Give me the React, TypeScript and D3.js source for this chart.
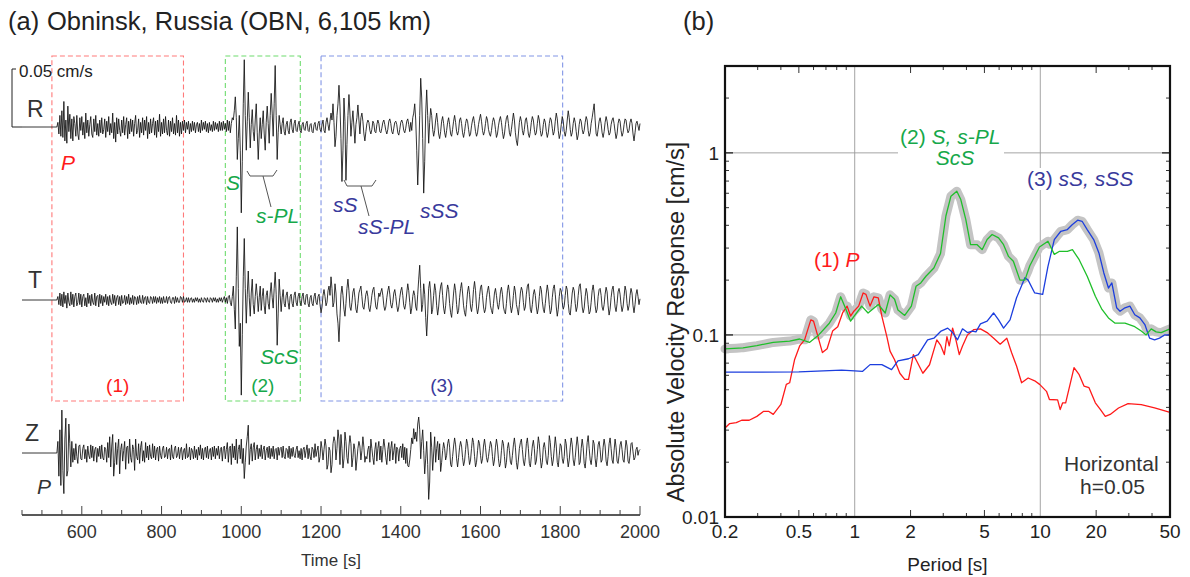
import React from "react";
import * as d3 from "d3";

const sans = "'Liberation Sans', Arial, Helvetica, sans-serif";

// ---- panel (a): seismograms, one sample every 2.5 s from 450 s, in 0.001 cm/s
const traceStart = 450;
const traceStep = 2.5;
const timeTicks = [600, 800, 1000, 1200, 1400, 1600, 1800, 2000];

const radial = [
  0, 0, 0, 0, 0, 0, 0, 0, 0, 0,
  0, 0, 0, 0, 0, 0, 0, 0, 0, 0,
  0, 0, 0, 0, 0, 0, 0, 0, 0, 0,
  0, 0, 0, 0, 0, 0, 4, -6, 10, -8,
  14, -9, 22, -12, 6, -14, 18, -4, 11, -10,
  7, -12, 9, 3, -8, 10, -6, -11, 8, -3,
  9, -7, 4, -10, 12, -5, 6, -8, 2, 9,
  -6, -9, 7, -4, 10, -7, 3, -8, 6, -5,
  8, -6, -2, 7, -9, 5, -4, 9, -7, 3,
  -5, 12, -10, 4, -13, 8, -6, 7, -3, -8,
  6, -5, 9, -7, 2, 8, -10, 5, -6, 7,
  -4, 6, -8, 3, 10, -6, -3, 7, -9, 4,
  -5, 8, -7, 6, -3, 9, -10, 4, -6, 7,
  -5, 3, 8, -7, 5, -9, 6, -4, 11, -8,
  4, -6, 7, -5, 9, -3, -7, 6, -8, 5,
  -4, 8, -6, 3, -7, 10, -5, 6, -8, 4,
  -6, 5, -3, 6, -5, 4, -2, 5, -6, 3,
  -4, 5, -3, 4, -5, 2, 4, -4, 3, -5,
  6, -3, 4, -2, 5, -4, 3, -5, 4, -3,
  2, -4, 5, -3, 4, -2, 3, -4, 5, -3,
  4, -3, 5, -2, 3, -4, 6, -3, 5, -5,
  3, 8, 6, 14, 26, 8, -28, -10, 10, -20,
  -74, -30, 20, 58, 10, -20, 5, 30, 8, -18,
  2, 15, -4, -12, 6, 20, -5, -28, -6, 8,
  -10, 2, 14, -6, -20, 4, 18, 3, -14, 10,
  29, 12, -8, 20, 53, 10, -28, -5, 10, 2,
  -6, 3, 8, -4, -7, 2, 5, -3, -6, 4,
  7, -2, -5, 3, 6, -3, -4, 2, 5, -3,
  -5, 2, 4, -2, -3, 3, 5, -3, -4, 2,
  3, -4, -5, 2, 4, -2, -3, 3, 5, -2,
  -4, 2, 6, -3, -5, 4, 8, 2, -3, 5,
  12, 6, 20, 4, -17, -8, 10, 20, 36, 18,
  -10, -47, -20, 25, 5, -46, -15, 10, 28, 12,
  -8, 4, 14, 0, -14, 2, 8, 19, 6, -6,
  8, 12, 5, -6, -12, -4, 3, 6, 4, -3,
  -6, -2, 5, 3, -4, -5, 2, 6, 3, -4,
  -5, -1, 4, 6, 2, -3, -6, -2, 5, 7,
  3, -4, -6, -1, 4, 5, 2, -5, -7, -2,
  4, 6, 3, -3, -5, -1, 5, 7, 2, -4,
  4, -3, 8, 12, 20, 6, -20, -50, -25, 10,
  42, 25, -10, -57, -30, 12, 32, 10, -14, 4,
  16, 10, -2, -8, -3, 6, 12, 4, -6, -10,
  -4, 5, 9, 3, -5, -9, -3, 4, 8, 2,
  -6, -8, -2, 5, 10, 4, -4, -7, -3, 6,
  8, 3, -5, -9, -4, 3, 7, 5, -2, -8,
  -6, 1, 6, 9, 3, -4, -8, -5, 2, 7,
  11, 5, -3, -7, -4, 3, 9, 6, -2, -6,
  -8, -3, 4, 8, 5, -2, -9, -6, 1, 6,
  9, 4, -4, -10, -6, 2, 8, 10, 3, -5,
  -8, -2, 5, 12, 6, -5, -12, -16, -6, 4,
  9, 5, -3, -7, -2, 6, 8, 2, -6, -9,
  -4, 4, 9, 6, -2, -7, -5, 3, 10, 6,
  -3, -8, -6, 2, 7, 4, -4, -9, -5, 3,
  8, 6, -1, -7, -4, 5, 12, 7, -3, -10,
  -6, 2, 9, 5, -4, -8, -3, 6, 14, 8,
  -2, -8, -5, 3, 8, 4, -4, -11, -7, 2,
  7, 5, -2, -6, -3, 4, 9, 6, -3, -8,
  -5, 3, 8, 14, 20, 6, -6, -8, -2, 5,
  8, 3, -5, -9, -4, 4, 9, 5, -2, -7,
  -5, 2, 6, 8, 3, -4, -10, -6, 3, 7,
  5, -3, -8, -5, 2, 7, 6, -1, -5, -3,
  4, 7, 3, -6, -12, -5, 3, 5, 1, -3,
  3,
];

const transverse = [
  0, 0, 0, 0, 0, 0, 0, 0, 0, 0,
  0, 0, 0, 0, 0, 0, 0, 0, 0, 0,
  0, 0, 0, 0, 0, 0, 0, 0, 0, 0,
  0, 0, 0, 0, 0, 0, 3, -4, 6, -5,
  5, -6, 7, -3, 4, -7, 6, -2, -5, 7,
  -4, 5, -6, 3, 6, -5, -2, 6, -4, 5,
  -6, 3, 5, -5, 2, -6, 6, -3, 4, -5,
  5, -2, -4, 6, -5, 3, 4, -6, 5, -3,
  4, -5, 3, -2, 5, -4, 3, -5, 4, -2,
  -4, 5, -3, 4, -5, 2, 4, -4, 3, -5,
  4, -3, -2, 4, -4, 3, -3, 5, -4, 2,
  -3, 4, -4, 3, 2, -4, 3, -3, 4, -2,
  -3, 4, -3, 2, 3, -4, 3, -2, -3, 3,
  2, -3, 3, -2, 3, -3, 2, -2, 3, -3,
  2, -3, 3, -2, -2, 3, -3, 2, 3, -2,
  -3, 2, 2, -3, 3, -2, 2, -2, -2, 3,
  2, -2, 3, -2, -1, 2, -2, 2, -2, 1,
  2, -2, 1, -2, 2, -1, 2, -2, 1, -2,
  2, -1, -2, 2, 1, -2, 2, -1, -2, 2,
  1, -2, 2, -1, 2, -2, 1, -2, 2, -1,
  2, -2, 1, 3, -2, 2, -3, 3, 4, -2,
  -5, 3, 12, -8, -25, 20, 63, 10, -40, -20,
  -82, -30, 20, 53, 10, -20, 5, 25, 2, -14,
  6, 18, -4, -12, 3, 14, 4, -10, 2, 12,
  -9, 3, 10, -5, -12, 4, 8, -3, -8, 6,
  15, 2, -7, 10, 24, 5, -39, -12, 18, 4,
  -10, 2, 9, -3, -6, 4, 7, -2, -8, 3,
  5, -3, -6, 4, 7, -2, -5, 3, 6, -2,
  -5, 3, 6, -2, -4, 4, 5, -3, -6, 2,
  4, -3, -5, 3, 6, -2, -4, 3, 5, -4,
  -11, -6, 4, 9, 3, -5, -2, 8, 12, 4,
  20, 10, -6, -2, 14, 6, -12, -20, -36, -15,
  5, 12, 4, -8, -14, -3, 10, 18, 8, -6,
  -9, -2, 7, 10, 2, -8, -11, -3, 6, 9,
  12, 3, -6, -8, -2, 5, 8, 3, -7, -10,
  -4, 4, 9, 11, 2, -6, -8, -1, 6, 3,
  7, 10, 4, -5, -9, -6, 2, 8, 12, 5,
  -4, -7, -2, 6, 9, 3, -5, -10, -6, 2,
  8, 11, 4, -5, -8, -3, 6, 14, 8, -2,
  -12, -7, 3, 8, 4, -6, -9, 5, 18, 30,
  10, -10, -4, 14, 5, -15, -31, -12, 10, 16,
  6, -12, -8, 4, 14, 8, -5, -13, -6, 5,
  12, 15, 4, -7, -12, -5, 6, 13, 9, -3,
  -11, -15, -5, 6, 14, 8, -4, -12, -9, 2,
  10, 15, 6, -5, -11, -14, -4, 7, 12, 5,
  -6, -10, -3, 9, 16, 8, -6, -12, -7, 3,
  11, 13, 4, -6, -11, -8, 2, 8, 12, 5,
  -5, -9, -12, -3, 6, 10, 4, -4, -8, -2,
  7, 11, 5, -6, -10, -12, -3, 8, 13, 6,
  -5, -11, -6, 4, 12, 7, -4, -8, -13, -4,
  6, 11, 8, -2, -9, -6, 5, 12, 14, 3,
  -8, -11, -4, 5, 9, 4, -6, -12, -7, 3,
  12, 9, -1, -8, -11, -3, 6, 13, 7, -4,
  -12, -9, 2, 10, 13, 5, -6, -14, -8, 3,
  10, 8, -2, -8, -5, 4, 12, 9, -3, -11,
  -13, -4, 6, 11, 8, -3, -10, -6, 4, 12,
  14, 5, -6, -11, -7, 3, 10, 6, -4, -12,
  -10, -2, 8, 13, 6, -5, -11, -8, 3, 9,
  10, 4, -6, -9, -4, 5, 11, 7, -5, -13,
  -8, 2, 9, 12, 4, -6, -10, -3, 7, 10,
  5, -4, -10, -6, 3, 12, 8, -3, -9, -5,
  4, 10, 6, -5, -11, -4, 5, 9, 3, -4,
  1,
];

const vertical = [
  0, 0, 0, 0, 0, 0, 0, 0, 0, 0,
  0, 0, 0, 0, 0, 0, 0, 0, 0, 0,
  0, 0, 0, 0, 0, 0, 0, 0, 0, 0,
  0, 0, 0, 0, 0, 0, 10, -20, 20, -28,
  37, -15, -35, 12, 30, -20, -15, 25, 8, -12,
  10, -8, 4, -6, 8, -3, -9, 6, 7, -5,
  -6, 4, 7, -5, 3, -8, 6, -2, -5, 7,
  -4, 6, -7, 3, 5, -8, 4, -3, 6, -5,
  7, -4, -6, 5, 3, -8, 9, -4, 14, -12,
  6, 16, -20, -8, 9, -10, 4, 12, -18, 3,
  8, -7, 2, 10, -14, 5, 6, -9, 12, -4,
  -8, 7, 3, -15, 12, -3, -6, 8, -9, 5,
  10, -7, 2, -8, 9, -4, 6, -6, 7, -3,
  -5, 8, -4, 6, -6, 3, 5, -7, 6, -2,
  -5, 4, 6, -4, -3, 5, -5, 3, 4, -6,
  7, -3, -5, 4, 6, -4, -2, 5, -5, 3,
  5, -6, 2, 4, -5, 8, -4, -3, 5, -6,
  4, 2, -5, 6, -4, 3, -6, 5, -2, 7,
  -5, 4, -6, 3, 5, -4, 6, -5, 2, 4,
  -6, 5, -3, 6, -5, 4, -2, 6, -5, 3,
  5, -7, 4, 6, -5, 3, 9, -8, 4, 6,
  -10, 8, -4, 6, -6, 12, -9, 3, 7, -5,
  12, -9, 4, -22, -8, 6, 14, 24, -10, 3,
  8, -7, 5, 9, -6, 3, 7, -5, 4, -3,
  7, -5, 3, 6, -6, 2, 5, -4, 6, -5,
  4, -3, 6, -5, 3, 4, -6, 5, -2, 4,
  5, -4, 6, -3, -5, 4, 3, -4, 6, -5,
  4, -3, 5, -2, -4, 3, 6, -4, 2, -5,
  4, -6, 3, 5, -4, 2, 7, -5, 4, -3,
  -6, 5, 3, -4, 8, -3, 2, 6, -8, -3,
  10, 4, -6, 3, 12, 6, -14, -10, 5, 2,
  -17, -10, 8, 14, 10, -6, 4, 20, 12, -10,
  16, 4, -13, -5, 18, 10, -4, -9, 6, 15,
  8, -12, -4, 8, 3, -15, -6, 4, 10, 6,
  -6, 2, 14, 5, -8, -3, -5, 3, 6, -8,
  12, 4, -4, -10, 3, 9, -7, 4, 10, -6,
  6, -8, 3, 12, 5, -4, -10, 3, 9, -7,
  4, 10, -6, 2, 8, -9, 5, 3, -7, 4,
  6, -4, 8, -6, 5, -9, 4, -11, -12, -6,
  3, 13, 8, 21, 12, 18, 10, 25, 31, 20,
  -5, 10, 20, 2, -18, -5, 10, -10, -40, -25,
  18, 5, -15, 0, 14, -8, 4, 10, -6, 8,
  -16, -8, 2, 9, 4, -6, -2, 8, 12, 5,
  -10, -12, -3, 6, 13, 7, -5, -12, -4, 5,
  10, 6, -4, -11, -7, 3, 12, 8, -2, -10,
  -6, 4, 13, 9, -3, -12, -8, 2, 11, 8,
  -2, -9, -5, 6, 12, 5, -4, -8, -3, 4,
  10, 7, -3, -11, -6, 5, 12, 6, -5, -12,
  -9, 2, 11, 8, -3, -13, -8, 4, 9, 2,
  -8, -10, -2, 7, 13, 5, -8, -14, -6, 4,
  9, 12, 3, -7, -11, -4, 8, 13, 4, -9,
  -12, -3, 6, 11, 4, -10, -7, 3, 14, 8,
  -4, -13, -8, 5, 9, 3, -7, -10, -2, 15,
  9, -3, -11, -6, 4, 14, 6, -8, -12, -2,
  8, 6, -5, -9, -3, 12, 8, -4, -12, -6,
  5, 13, 7, -6, -11, -4, 6, 14, 6, -10,
  -8, 4, 12, 5, -9, -13, -3, 9, 15, 4,
  -6, -10, -2, 11, 8, -5, -12, -4, 7, 10,
  3, -8, -6, 5, 12, 6, -7, -11, -3, 8,
  13, 4, -6, -9, 2, 12, 5, -7, -9, -2,
  7, 10, 3, -6, -8, 2, 11, 6, -7, -9,
  -2, 8, 9, 1, -6, -4, 3, 5, -2, 2,
  3,
];

// analysis windows [s]
const windowLabels = ["(1)", "(2)", "(3)"];
const windowStarts = [525, 960, 1200];
const windowEnds = [855, 1148, 1806];

// ---- panel (b): absolute velocity response spectra [period s, cm/s]
const spectrumP: [number, number][] = [
  [0.2, 0.0308], [0.212, 0.0326], [0.23, 0.033], [0.246, 0.034], [0.27, 0.034], [0.297, 0.0357],
  [0.322, 0.038], [0.345, 0.038], [0.364, 0.0366], [0.4, 0.0415], [0.428, 0.0535], [0.446, 0.0546],
  [0.474, 0.073], [0.505, 0.087], [0.537, 0.094], [0.58, 0.121], [0.6, 0.119], [0.63, 0.1],
  [0.67, 0.08], [0.71, 0.084], [0.76, 0.105], [0.81, 0.111], [0.86, 0.132], [0.91, 0.144],
  [0.95, 0.127], [0.99, 0.135], [1.05, 0.144], [1.11, 0.17], [1.15, 0.167], [1.21, 0.144],
  [1.27, 0.162], [1.34, 0.16], [1.4, 0.127], [1.49, 0.098], [1.55, 0.0815], [1.64, 0.073],
  [1.75, 0.0616], [1.86, 0.057], [1.95, 0.057], [2.07, 0.078], [2.14, 0.073], [2.33, 0.0616],
  [2.53, 0.0686], [2.77, 0.094], [2.9, 0.088], [3.04, 0.078], [3.14, 0.098], [3.23, 0.087],
  [3.37, 0.109], [3.51, 0.094], [3.66, 0.078], [3.81, 0.087], [4.05, 0.1], [4.39, 0.107],
  [4.76, 0.108], [5.17, 0.103], [5.61, 0.096], [6.08, 0.089], [6.6, 0.096], [7.0, 0.08],
  [7.45, 0.0675], [7.93, 0.0546], [8.6, 0.058], [9.33, 0.056], [9.92, 0.0535], [10.8, 0.049],
  [11.2, 0.0442], [12.4, 0.044], [12.8, 0.0389], [13.2, 0.0424], [13.7, 0.0424], [15.2, 0.0661],
  [16.2, 0.0605], [17.2, 0.0524], [18.3, 0.0513], [19.8, 0.0424], [21.1, 0.0389], [22.4, 0.0357],
  [23.8, 0.0366], [26.4, 0.0397], [29.7, 0.0419], [35, 0.0414], [41.3, 0.0397], [50, 0.0375],
];

const spectrumS: [number, number][] = [
  [0.2, 0.0838], [0.25, 0.085], [0.297, 0.0874], [0.364, 0.091], [0.446, 0.0925], [0.505, 0.095],
  [0.57, 0.091], [0.64, 0.1], [0.73, 0.116], [0.79, 0.132], [0.84, 0.162], [0.89, 0.141],
  [0.95, 0.119], [1.0, 0.128], [1.09, 0.144], [1.18, 0.132], [1.34, 0.147], [1.46, 0.132],
  [1.55, 0.166], [1.64, 0.157], [1.71, 0.137], [1.86, 0.128], [2.02, 0.144], [2.14, 0.185],
  [2.27, 0.193], [2.42, 0.21], [2.67, 0.233], [2.9, 0.28], [3.1, 0.45], [3.3, 0.578],
  [3.55, 0.616], [3.73, 0.554], [3.97, 0.43], [4.21, 0.313], [4.57, 0.313], [4.86, 0.294],
  [5.17, 0.334], [5.5, 0.356], [5.96, 0.341], [6.34, 0.313], [6.74, 0.27], [7.16, 0.254],
  [7.77, 0.2], [8.26, 0.2], [8.78, 0.24], [9.9, 0.304], [11.0, 0.327], [11.9, 0.277],
  [12.7, 0.288], [14.0, 0.288], [14.9, 0.294], [16.2, 0.259], [17.9, 0.21], [19.8, 0.163],
  [21.5, 0.138], [23.3, 0.124], [25.3, 0.116], [28.6, 0.116], [32.3, 0.111], [35, 0.105],
  [37.2, 0.1], [39.6, 0.108], [42.1, 0.104], [44.8, 0.103], [50, 0.108],
];

const spectrumSS: [number, number][] = [
  [0.2, 0.0624], [0.5, 0.0626], [0.85, 0.064], [1.0, 0.0635], [1.1, 0.063], [1.21, 0.0687],
  [1.4, 0.0687], [1.58, 0.0645], [1.71, 0.072], [1.95, 0.074], [2.2, 0.078], [2.47, 0.094],
  [2.67, 0.096], [2.92, 0.105], [3.17, 0.109], [3.37, 0.103], [3.58, 0.094], [3.81, 0.108],
  [4.05, 0.103], [4.3, 0.105], [4.5, 0.104], [4.76, 0.115], [5.17, 0.119], [5.6, 0.132],
  [5.96, 0.121], [6.34, 0.109], [6.87, 0.121], [7.45, 0.16], [8.26, 0.206], [8.6, 0.2],
  [9.33, 0.17], [10.3, 0.167], [11.0, 0.238], [11.9, 0.334], [12.9, 0.371], [14.0, 0.379],
  [14.9, 0.404], [15.9, 0.427], [16.8, 0.421], [17.9, 0.379], [19.4, 0.334], [20.7, 0.282],
  [22.0, 0.219], [23.3, 0.181], [24.3, 0.193], [25.8, 0.141], [26.9, 0.135], [28.6, 0.141],
  [30.4, 0.144], [32.3, 0.129], [34.4, 0.124], [36.6, 0.114], [38.8, 0.096], [41.3, 0.094],
  [43.9, 0.096], [46.7, 0.1], [50, 0.1],
];

const periodTicks = [0.2, 0.5, 1, 2, 5, 10, 20, 50];
const velocityTicks = [0.01, 0.1, 1];

// colours
const red = "#ff1a1a";
const green = "#1fbf2a";
const blue = "#1c3ede";
const greenText = "#16a84a";
const navyText = "#393a9c";
const boxColors = ["#ff7a7a", "#6fdc6f", "#8296e6"];
const windowTextColors = [red, greenText, navyText];

// log-log interpolation, used for the grey envelope of the three spectra
function interpLog(data: [number, number][], t: number) {
  if (t <= data[0][0]) return data[0][1];
  for (let i = 1; i < data.length; i++) {
    if (t <= data[i][0]) {
      const [t0, v0] = data[i - 1];
      const [t1, v1] = data[i];
      const f = Math.log(t / t0) / Math.log(t1 / t0);
      return Math.exp(Math.log(v0) + f * (Math.log(v1) - Math.log(v0)));
    }
  }
  return data[data.length - 1][1];
}

const SeismogramPanel = () => {
  const xT = d3.scaleLinear().domain([450, 2000]).range([22, 640]);
  // 0.05 cm/s = 50 units -> 58 px
  const amp = d3.scaleLinear().domain([0, 50]).range([0, -58]);
  const bases = { R: 127, T: 300, Z: 453 };
  const axisY = 515;

  const tracePath = (values: number[], base: number) =>
    d3.line<number>()
      .x((_, i) => xT(traceStart + i * traceStep))
      .y((v) => base + amp(v))(values) || "";

  const minor = d3.range(450, 2001, 50);
  const italic = { fontStyle: "italic" as const };

  return (
    <g fontFamily={sans}>
      <text x={8} y={30} fontSize={25.5} fill="#222">(a)</text>
      <text x={47} y={30} fontSize={25.5} fill="#222">Obninsk, Russia (OBN, 6,105 km)</text>

      {windowStarts.map((s, i) => (
        <g key={i}>
          <rect
            x={xT(s)} y={56}
            width={xT(windowEnds[i]) - xT(s)} height={345}
            fill="none" stroke={boxColors[i]} strokeWidth={1.1} strokeDasharray="5,3"
          />
          <text
            x={(xT(s) + xT(windowEnds[i])) / 2} y={392}
            textAnchor="middle" fontSize={19} fill={windowTextColors[i]}
          >{windowLabels[i]}</text>
        </g>
      ))}

      {/* scale bar */}
      <path
        d={`M16,${bases.R + amp(50)} H12 V${bases.R} H22`}
        fill="none" stroke="#222" strokeWidth={1}
      />
      <text x={19} y={77} fontSize={17} fill="#222">0.05 cm/s</text>

      <text x={27} y={117} fontSize={23} fill="#333">R</text>
      <text x={28} y={288} fontSize={23} fill="#333">T</text>
      <text x={25} y={441} fontSize={23} fill="#333">Z</text>

      <path d={tracePath(radial, bases.R)} fill="none" stroke="#111" strokeWidth={0.85} strokeLinejoin="round" />
      <path d={tracePath(transverse, bases.T)} fill="none" stroke="#111" strokeWidth={0.85} strokeLinejoin="round" />
      <path d={tracePath(vertical, bases.Z)} fill="none" stroke="#111" strokeWidth={0.85} strokeLinejoin="round" />

      {/* phase labels */}
      <text x={61} y={170} fontSize={21} fill={red} {...italic}>P</text>
      <text x={226} y={190} fontSize={21} fill={greenText} {...italic}>S</text>
      <text x={256} y={223} fontSize={21} fill={greenText} {...italic}>s-PL</text>
      <text x={260} y={364} fontSize={21} fill={greenText} {...italic}>ScS</text>
      <text x={333} y={212} fontSize={21} fill={navyText} {...italic}>sS</text>
      <text x={358} y={234} fontSize={21} fill={navyText} {...italic}>sS-PL</text>
      <text x={420} y={218} fontSize={21} fill={navyText} {...italic}>sSS</text>
      <text x={37} y={494} fontSize={21} fill="#333" {...italic}>P</text>

      <path d="M247,171 L250,176 L273,176 L277,170 M263,176 L271,207" fill="none" stroke="#555" strokeWidth={1} />
      <path d="M344,180 L347,186 L372,186 L376,180 M361,186 L369,216" fill="none" stroke="#555" strokeWidth={1} />

      {/* time axis */}
      <line x1={xT(450)} x2={xT(2000)} y1={axisY} y2={axisY} stroke="#222" strokeWidth={1.5} />
      {minor.map((t) => (
        <line
          key={t}
          x1={xT(t)} x2={xT(t)} y1={axisY}
          y2={axisY - (timeTicks.includes(t) ? 9 : 5)}
          stroke="#444" strokeWidth={1}
        />
      ))}
      {timeTicks.map((t) => (
        <text key={t} x={xT(t)} y={538} textAnchor="middle" fontSize={18} fill="#333">{t}</text>
      ))}
      <text x={(xT(450) + xT(2000)) / 2} y={566} textAnchor="middle" fontSize={17} fill="#333">Time [s]</text>
    </g>
  );
};

const SpectrumPanel = () => {
  const x = d3.scaleLog().domain([0.2, 50]).range([725, 1170]);
  const y = d3.scaleLog().domain([0.01, 3]).range([517, 66]);
  const [x0, x1] = x.range();
  const [y0, y1] = y.range();

  const line = d3.line<[number, number]>().x((d) => x(d[0])).y((d) => y(d[1]));

  const allPeriods = Array.from(
    new Set([...spectrumP, ...spectrumS, ...spectrumSS].map((d) => d[0]))
  ).sort((a, b) => a - b);
  const envelope: [number, number][] = allPeriods.map((t) => [
    t,
    Math.max(interpLog(spectrumP, t), interpLog(spectrumS, t), interpLog(spectrumSS, t)),
  ]);

  const xMinor = [
    ...d3.range(3, 10).map((d) => d / 10),
    ...d3.range(2, 10),
    ...d3.range(20, 51, 10),
  ];
  const yMinor = [
    ...d3.range(2, 10).map((d) => d / 100),
    ...d3.range(2, 10).map((d) => d / 10),
    2, 3,
  ];
  const isMajorX = (t: number) => periodTicks.some((p) => Math.abs(p - t) < 1e-9);

  return (
    <g fontFamily={sans}>
      <text x={683} y={30} fontSize={25.5} fill="#222">(b)</text>

      {/* grid */}
      {[1, 10].map((t) => (
        <line key={t} x1={x(t)} x2={x(t)} y1={y0} y2={y1} stroke="#9a9a9a" strokeWidth={0.9} />
      ))}
      {[0.1, 1].map((v) => (
        <line key={v} x1={x0} x2={x1} y1={y(v)} y2={y(v)} stroke="#9a9a9a" strokeWidth={0.9} />
      ))}

      {/* ticks inside the frame */}
      {xMinor.map((t) => {
        const len = isMajorX(t) ? 7 : 4;
        return (
          <g key={t}>
            <line x1={x(t)} x2={x(t)} y1={y0} y2={y0 - len} stroke="#333" strokeWidth={1} />
            <line x1={x(t)} x2={x(t)} y1={y1} y2={y1 + len} stroke="#333" strokeWidth={1} />
          </g>
        );
      })}
      {yMinor.map((v) => (
        <g key={v}>
          <line x1={x0} x2={x0 + 4} y1={y(v)} y2={y(v)} stroke="#333" strokeWidth={1} />
          <line x1={x1} x2={x1 - 4} y1={y(v)} y2={y(v)} stroke="#333" strokeWidth={1} />
        </g>
      ))}
      {velocityTicks.map((v) => (
        <g key={v}>
          <line x1={x0} x2={x0 + 8} y1={y(v)} y2={y(v)} stroke="#222" strokeWidth={1.3} />
          <line x1={x1} x2={x1 - 8} y1={y(v)} y2={y(v)} stroke="#222" strokeWidth={1.3} />
        </g>
      ))}

      {/* spectra */}
      <path d={line(envelope) || ""} fill="none" stroke="#c4c4c4" strokeWidth={9} strokeLinejoin="round" strokeLinecap="round" />
      <path d={line(spectrumP) || ""} fill="none" stroke={red} strokeWidth={1.3} strokeLinejoin="round" />
      <path d={line(spectrumSS) || ""} fill="none" stroke={blue} strokeWidth={1.3} strokeLinejoin="round" />
      <path d={line(spectrumS) || ""} fill="none" stroke={green} strokeWidth={1.3} strokeLinejoin="round" />

      {/* frame (covers the halo ends) */}
      <rect x={x1} y={y1 - 6} width={20} height={y0 - y1 + 12} fill="#fff" />
      <rect x={x0} y={y1} width={x1 - x0} height={y0 - y1} fill="none" stroke="#111" strokeWidth={2.2} />

      {/* annotations */}
      <rect x={898} y={124} width={106} height={44} fill="#fff" />
      <text x={900} y={144} fontSize={21} fill={greenText}>
        (2) <tspan fontStyle="italic">S, s-PL</tspan>
      </text>
      <text x={955} y={165} fontSize={21} fill={greenText} fontStyle="italic" textAnchor="middle">ScS</text>
      <rect x={1025} y={168} width={110} height={22} fill="#fff" />
      <text x={1027} y={186} fontSize={21} fill={navyText}>
        (3) <tspan fontStyle="italic">sS, sSS</tspan>
      </text>
      <text x={814} y={267} fontSize={21} fill={red}>
        (1) <tspan fontStyle="italic">P</tspan>
      </text>
      <text x={1064} y={471} fontSize={21} fill="#333">Horizontal</text>
      <text x={1080} y={494} fontSize={21} fill="#333">h=0.05</text>

      {/* tick labels */}
      {periodTicks.map((t) => (
        <text key={t} x={x(t)} y={538} textAnchor="middle" fontSize={19} fill="#222">{t}</text>
      ))}
      {velocityTicks.map((v) => (
        <text key={v} x={x0 - 6} y={y(v) + 7} textAnchor="end" fontSize={19} fill="#222">{v}</text>
      ))}
      <text x={(x0 + x1) / 2} y={571} textAnchor="middle" fontSize={19} fill="#222">Period [s]</text>
      <text
        transform={`translate(684, 322) rotate(-90)`}
        textAnchor="middle" fontSize={23.5} fill="#222"
      >Absolute Velocity Response [cm/s]</text>
    </g>
  );
};

export default function App() {
  return (
    <svg
      width={1190}
      height={577}
      style={{ position: "absolute", left: 0, top: 0, background: "#fff" }}
    >
      <rect width={1190} height={577} fill="#fff" />
      <SeismogramPanel />
      <SpectrumPanel />
    </svg>
  );
}
